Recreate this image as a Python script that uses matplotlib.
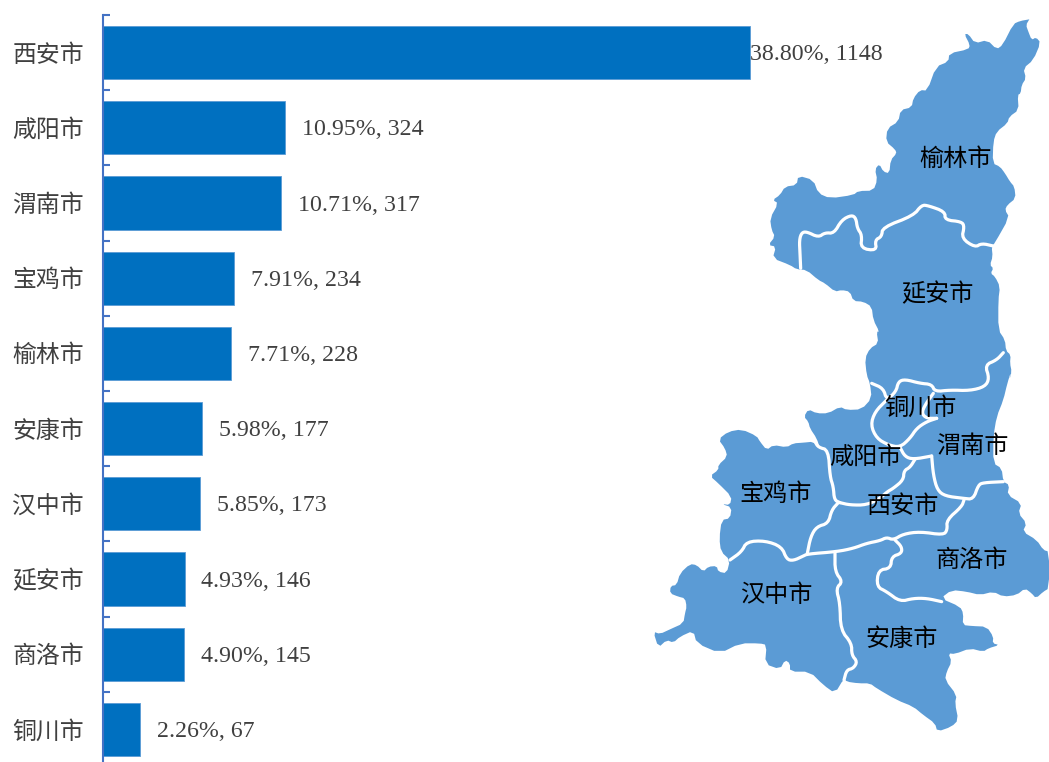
import numpy as np
import matplotlib
matplotlib.use("Agg")
import matplotlib.pyplot as plt

plt.rcParams["font.family"] = ["Noto Sans CJK SC", "DejaVu Sans"]

# ── Data ───────────────────────────────────────────────────
cities = ["西安市", "咸阳市", "渭南市", "宝鸡市", "榆林市", "安康市", "汉中市", "延安市", "商洛市", "铜川市"]
counts = [1148, 324, 317, 234, 228, 177, 173, 146, 145, 67]
shares = [38.80, 10.95, 10.71, 7.91, 7.71, 5.98, 5.85, 4.93, 4.90, 2.26]

# ── Map outline ────────────────────────────────────────────
# north part: pixel = (650 + x/3, 10 + y/3)
north_east = [(1138,28),(1128,45),(1135,65),(1145,90),(1158,82),(1172,98),(1150,150),(1120,175),(1128,205),
              (1115,225),(1112,250),(1103,255),(1106,300),(1078,320),(1072,340),(1040,365),(1030,395),(1028,460),
              (1050,470),(1065,490),(1080,515),(1093,530),(1097,565),(1072,585),(1065,600),(1078,622),(1035,698),
              (1025,710),(1028,740),(1020,765),(1030,775),(1022,790),(1035,800),(1050,830),(1045,870),(1045,960),
              (1065,990),(1068,1022),(1082,1035),(1080,1060),(1085,1085),(1078,1110)]
north_west = [(650,1095),(645,1045),(660,1015),(685,1000),(680,965),(688,965),(670,930),(665,890),(640,875),
              (610,873),(600,845),(575,840),(555,845),(525,820),(505,810),(470,780),(440,778),(420,765),(368,745),
              (378,710),(355,705),(375,680),(365,660),(360,625),(385,580),(368,570),(390,555),(405,530),(440,525),
              (445,497),(490,510),(505,550),(540,565),(610,555),(625,543),(670,542),(682,510),(675,478),(688,462),
              (700,485),(718,490),(722,450),(740,430),(735,418),(708,395),(712,355),(745,335),(752,300),(785,292),
              (790,265),(810,240),(832,242),(858,170),(895,155),(898,130),(955,118),(960,105),(943,72),(955,72),
              (975,100),(1012,90),(1040,118),(1058,105),(1090,42),(1110,33),(1138,28)]
# south part: pixel = (650 + x/3, 350 + y/3)
south_rim = [(1083,65),(1072,100),(1060,150),(1040,200),(1030,260),(1030,340),(1055,355),(1060,395),(1078,405),
             (1072,435),(1115,460),(1105,490),(1130,520),(1118,545),(1160,570),(1180,600),(1197,605),(1197,715),
             (1180,725),(1158,745),(1145,730),(1125,715),(1100,735),(1060,740),(1030,725),(990,735),(950,725),
             (905,720),(872,745),(930,770),(940,790),(938,825),(965,828),(1010,830),(1030,860),(1028,880),(1048,885),
             (1015,895),(1000,905),(960,895),(915,912),(895,910),(905,935),(890,965),(885,990),(920,1035),(915,1060),
             (925,1110),(905,1130),(862,1145),(855,1120),(820,1095),(790,1070),(740,1050),(680,1015),(660,1000),
             (625,1000),(590,995),(582,985),(555,1030),(520,1005),(480,965),(420,965),(420,940),(405,930),(390,958),
             (345,942),(350,885),(330,880),(270,880),(210,910),(140,880),(130,842),(90,860),(70,878),(50,870),(25,893),
             (10,845),(30,852),(60,838),(100,820),(105,790),(110,770),(105,745),(85,740),(60,730),(62,708),(80,705),
             (90,670),(120,642),(140,645),(160,665),(175,650),(200,648),(205,665),(230,670),(240,630),(213,605),
             (208,565),(215,510),(240,505),(245,472),(215,462),(240,465),(245,440),(205,400),(180,378),(205,360),
             (205,345),(232,320),(225,295),(205,268),(235,245),(275,238),(320,258),(330,275),(350,300),(370,285),
             (410,292),(430,280),(460,278),(490,275),(510,295),(500,265),(480,235),(475,215),(462,200),(475,178),
             (500,190),(535,190),(570,170),(590,180),(635,178),(665,145),(660,100)]

# ── County borders ─────────────────────────────────────────
border_north = [[(452,775),(450,730),(448,690),(455,668),(470,665),(505,682),(525,668),(552,670),(575,630),(605,615),
                 (618,625),(622,655),(636,675),(632,715),(680,722),(675,690),(695,680),(698,652),(790,617),(815,585),
                 (835,587),(885,605),(885,630),(935,635),(943,650),(935,685),(975,712),(995,700),(1030,708)]]
borders_south = [
    [(1060,8),(1040,30),(1005,45),(1018,85),(1005,110),(960,122),(900,120),(855,125),(845,103),(810,100),(765,88),
     (745,95),(738,125),(710,150),(700,115),(665,100)],
    [(710,150),(675,185),(662,225),(680,265),(715,285),(750,292),(780,265),(800,235),(830,215),(860,205)],
    [(850,130),(825,165),(815,190),(830,205),(860,205)],
    [(750,292),(765,320),(790,328),(845,318)],
    [(795,328),(780,352),(762,362),(760,390),(730,415),(712,425),(690,445),(650,465),(600,465),(570,458)],
    [(495,275),(505,292),(535,300),(540,380),(550,410),(553,450),(570,458)],
    [(565,458),(545,480),(535,520),(500,530),(482,560),(472,610)],
    [(240,630),(275,605),(290,575),(345,572),(395,590),(410,628),(430,632),(460,618),(472,612),(560,605),(610,595),
     (650,580),(690,572),(710,562),(730,570),(760,552),(810,545),(880,555),(892,540),(890,510),(935,470),(942,450)],
    [(845,318),(850,375),(862,420),(885,438),(940,445),(970,448),(985,405),(1000,398),(1060,395)],
    [(555,608),(555,665),(578,695),(558,715),(570,760),(572,840),(605,880),(605,915),(622,935),(610,955),(590,960),(582,990)],
    [(735,570),(755,590),(755,610),(725,620),(722,655),(685,660),(680,710),(710,725),(750,755),(790,745),(830,745),(875,755)],
]

map_labels = ["榆林市", "延安市", "铜川市", "渭南市", "咸阳市", "宝鸡市", "西安市", "商洛市", "汉中市", "安康市"]
map_label_x = [956, 937, 920, 972, 865, 776, 903, 972, 777, 902]
map_label_y = [159, 294, 408, 446, 457, 494, 506, 560, 595, 639]


def north(pts):
    a = np.array(pts, dtype=float)
    return np.column_stack([650 + a[:, 0] / 3, 10 + a[:, 1] / 3])


def south(pts):
    a = np.array(pts, dtype=float)
    return np.column_stack([650 + a[:, 0] / 3, 350 + a[:, 1] / 3])


def soften(a, passes=2):
    # corner cutting, the traced borders are curves in the reference
    for _ in range(passes):
        q = 0.75 * a[:-1] + 0.25 * a[1:]
        r = 0.25 * a[:-1] + 0.75 * a[1:]
        mid = np.empty((2 * len(q), 2))
        mid[0::2] = q
        mid[1::2] = r
        a = np.vstack([a[0], mid, a[-1]])
    return a


# ── Bars ───────────────────────────────────────────────────
W, H = 1049, 762
fig = plt.figure(figsize=(W / 100, H / 100), dpi=100)
ax = fig.add_axes([102.5 / W, (H - 767) / H, (W - 102.5) / W, 752 / H])

y = np.arange(len(cities))
ax.barh(y, counts, height=0.705, color="#0070C0", edgecolor="#5B9BD5", linewidth=0.6)
ax.set_xlim(0, 1679)
ax.set_ylim(len(cities) - 0.5, -0.5)
ax.xaxis.set_visible(False)

for s in ["top", "right", "bottom"]:
    ax.spines[s].set_visible(False)
ax.spines["left"].set_color("#4472C4")
ax.spines["left"].set_linewidth(1.5)

ax.set_yticks(y)
ax.set_yticklabels(cities, fontsize=17.2, color="#404040")
ax.tick_params(axis="y", which="major", length=0, pad=13.5)
ax.set_yticks(np.arange(len(cities) + 1) - 0.5, minor=True)
ax.tick_params(axis="y", which="minor", direction="in", length=5, width=1.5, color="#4472C4")

for i, (n, p) in enumerate(zip(counts, shares)):
    off = 0.5 if n == max(counts) else 12
    ax.annotate(f"{p:.2f}%, {n}", (n, i), xytext=(off, -1.5), textcoords="offset points",
                va="center", ha="left", fontsize=17.2, color="#404040", family="Liberation Serif")

# ── Map ────────────────────────────────────────────────────
mp = fig.add_axes([0, 0, 1, 1])
mp.set_xlim(0, W)
mp.set_ylim(H, 0)
mp.axis("off")
mp.patch.set_alpha(0)

outline = np.vstack([north(north_east), south(south_rim), north(north_west)])
outline = soften(outline, 1)
mp.fill(outline[:, 0], outline[:, 1], color="#5B9BD5", linewidth=0)

for b in [north(p) for p in border_north] + [south(p) for p in borders_south]:
    b = soften(b)
    mp.plot(b[:, 0], b[:, 1], color="white", linewidth=2.3, solid_joinstyle="round", solid_capstyle="round")

for name, lx, ly in zip(map_labels, map_label_x, map_label_y):
    mp.text(lx, ly, name, ha="center", va="center", fontsize=17.4, color="black")

fig.savefig("out.png", dpi=100)
